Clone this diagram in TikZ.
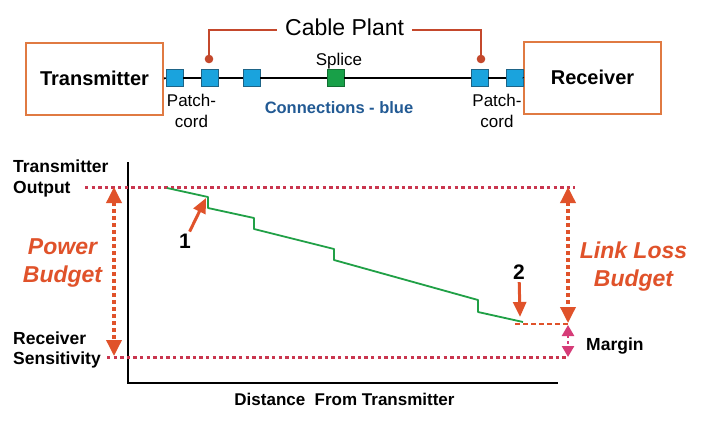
\documentclass[tikz,border=0pt]{standalone}
\usepackage{fontspec}
\setmainfont{Liberation Sans}
\usetikzlibrary{arrows.meta}
\definecolor{boxor}{RGB}{224,122,66}
\definecolor{leadred}{RGB}{196,72,44}
\definecolor{arrred}{RGB}{224,82,42}
\definecolor{dotred}{RGB}{201,54,79}
\definecolor{margpink}{RGB}{214,60,120}
\definecolor{lossgreen}{RGB}{32,160,70}
\definecolor{sqblue}{RGB}{26,163,221}
\definecolor{sqblueedge}{RGB}{30,100,135}
\definecolor{sqgreen}{RGB}{24,160,72}
\definecolor{sqgreenedge}{RGB}{18,110,50}
\definecolor{connblue}{RGB}{34,90,148}
\tikzset{
  bigbox/.style={draw=boxor, line width=2pt, minimum width=137pt, minimum height=72pt,
    font=\fontsize{20}{24}\selectfont\bfseries},
  bluesq/.style={draw=sqblueedge, line width=0.6pt, fill=sqblue, minimum size=17pt, inner sep=0pt},
  greensq/.style={draw=sqgreenedge, line width=0.6pt, fill=sqgreen, minimum size=17pt, inner sep=0pt},
  fibre/.style={line width=1.8pt, black},
  leader/.style={leadred, line width=1.8pt},
  smalltxt/.style={font=\fontsize{17}{21}\selectfont, inner sep=0pt, align=center},
  axlbl/.style={font=\fontsize{17.5}{20.5}\selectfont\bfseries, inner sep=0pt, align=left},
  budgettxt/.style={font=\fontsize{23}{28}\selectfont\bfseries\itshape, text=arrred, inner sep=0pt, align=center},
  numtxt/.style={font=\fontsize{21}{24}\selectfont\bfseries, inner sep=2pt},
  dotline/.style={dotred, line width=3pt, dash pattern=on 3.3pt off 3.3pt},
  budgetarrow/.style={arrred, line width=3.5pt, dash pattern=on 4pt off 3pt,
    {Triangle[width=15pt,length=16pt]}-{Triangle[width=15pt,length=16pt]}},
  pointer/.style={arrred, line width=3pt, -{Triangle[width=13pt,length=15pt]}},
  marginarrow/.style={margpink, line width=2.5pt, dash pattern=on 3pt off 3pt,
    {Triangle[width=12pt,length=11pt]}-{Triangle[width=12pt,length=11pt]}},
}
\begin{document}
\begin{tikzpicture}[x=1pt,y=-1pt]
\useasboundingbox (0,0) rectangle (703,423);
\fill[white] (0,0) rectangle (703,423);

% ---------- upper link diagram ----------
\node[bigbox] (tx) at (94.5,78.5) {Transmitter};
\node[bigbox] (rx) at (592.5,77.5) {Receiver};

\node[bluesq] (b1) at (174.5,78) {};
\node[bluesq] (b2) at (210,78) {};
\node[bluesq] (b3) at (251.5,78) {};
\node[greensq] (sp) at (335.5,78) {};
\node[bluesq] (b4) at (479.5,78) {};
\node[bluesq] (b5) at (514.5,78) {};

\draw[fibre] (tx.east) -- (b1.west);
\draw[fibre] (b1.east) -- (b2.west);
\draw[fibre] (b2.east) -- (b3.west);
\draw[fibre] (b3.east) -- (sp.west);
\draw[fibre] (sp.east) -- (b4.west);
\draw[fibre] (b4.east) -- (b5.west);
\draw[fibre] (b5.east) -- (rx.west);

\node[font=\fontsize{23}{27}\selectfont, inner xsep=8pt, inner ysep=0pt, anchor=base west] (cp) at (277,35) {Cable Plant};
\coordinate (d1) at (209,59);
\coordinate (d2) at (481,59);
\draw[leader] (d1) |- ([yshift=-3pt]cp.west);
\draw[leader] ([yshift=-3pt]cp.east) -| (d2);
\fill[leadred] (d1) circle (4.3pt);
\fill[leadred] (d2) circle (4.3pt);

\node[smalltxt, anchor=base] (spl) at (339,65) {Splice};
\node[smalltxt, anchor=north] (pc1) at (191.5,93.5) {Patch-\\cord};
\node[smalltxt, anchor=north] (pc2) at (497,93.5) {Patch-\\cord};
\node[font=\fontsize{16.5}{20}\selectfont\bfseries, text=connblue, inner sep=0pt, anchor=base] (conn) at (339,113) {Connections - blue};

% ---------- lower loss chart ----------
\coordinate (ytop) at (128,162);
\coordinate (orig) at (128,383);
\coordinate (xend) at (558,383);
\draw[black, line width=1.8pt] (ytop) -- (orig) -- (xend);

\coordinate (topL) at (85,187);
\coordinate (topR) at (575,187);
\coordinate (botL) at (107,357);
\coordinate (botR) at (567,357);
\draw[dotline] (topL) -- (topR);
\draw[dotline] (botL) -- (botR);

\coordinate (pbTop) at (114,187);
\coordinate (pbBot) at (114,356);
\draw[budgetarrow] (pbTop) -- (pbBot);

\coordinate (llTop) at (568,187);
\coordinate (llBot) at (568,323);
\draw[budgetarrow] (llTop) -- (llBot);

\coordinate (mTop) at (568,325);
\coordinate (mBot) at (568,357);
\draw[marginarrow] (mTop) -- (mBot);

\coordinate (endL) at (515,324);
\coordinate (endR) at (570,324);
\draw[arrred, line width=2pt, dash pattern=on 5pt off 3pt] (endL) -- (endR);

\draw[lossgreen, line width=1.8pt, line join=round]
  (167,188) -- (208,197) -- (208,208) -- (254,218) -- (254,229)
  -- (334,249) -- (334,260) -- (478,300) -- (478,312) -- (523,322);

\coordinate (t1) at (206,198);
\coordinate (t2) at (520,317);
\node[numtxt] (n1) at (185,241) {1};
\node[numtxt] (n2) at (519,272.5) {2};
\draw[pointer] (n1) -- (t1);
\draw[pointer] (n2) -- (t2);

\node[axlbl, anchor=north west] (tout) at (13,160) {Transmitter\\Output};
\node[axlbl, anchor=north west] (rsens) at (13,331.5) {Receiver\\Sensitivity};
\node[budgettxt, anchor=north] (pb) at (62.5,238.5) {Power\\Budget};
\node[budgettxt, anchor=north] (llb) at (633.5,241.5) {Link Loss\\Budget};
\node[font=\fontsize{17.5}{20}\selectfont\bfseries, inner sep=0pt, anchor=base west] (marg) at (586,350) {Margin};
\node[font=\fontsize{17}{20}\selectfont\bfseries, inner sep=0pt, anchor=base] (dist) at (344.5,405) {Distance\ \ From Transmitter};
\end{tikzpicture}
\end{document}
